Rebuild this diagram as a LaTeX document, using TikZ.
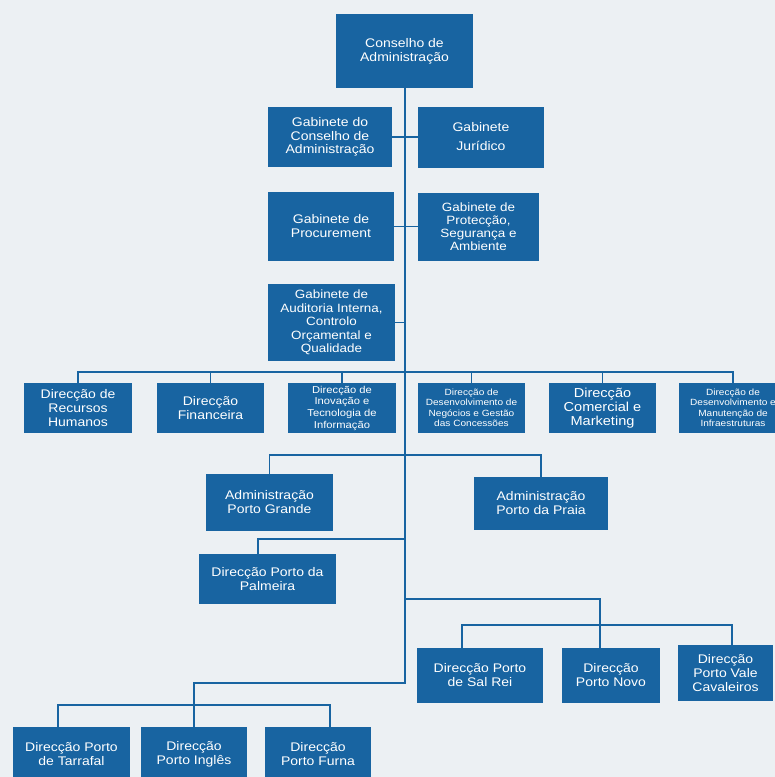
\documentclass[tikz,border=0pt]{standalone}
\usepackage{fontspec}
\setmainfont{Liberation Sans}[FakeStretch=1.12]
\usepackage{tikz}
\definecolor{portblue}{HTML}{1864A1}
\definecolor{paper}{HTML}{ECF0F3}
\tikzset{unit/.style={fill=portblue, text=white, align=center, inner sep=1pt,
    font=\fontsize{12.5}{14}\selectfont},
  tinyunit/.style={unit, font=\fontsize{9}{10.5}\selectfont},
  link/.style={draw=portblue, line width=1.2pt},
  trunk/.style={draw=portblue, line width=2pt}}

\begin{document}
\begin{tikzpicture}[x=1pt, y=-1pt]
\useasboundingbox (0,0) rectangle (775,777);
\fill[paper] (0,0) rectangle (775,777);
\node[unit, minimum width=137, minimum height=74] (cons) at (404.5,51)
  {Conselho de\\Administração};
\node[unit, minimum width=124, minimum height=60,
  font=\fontsize{12.5}{13.3}\selectfont] (gcons) at (330,137)
  {Gabinete do\\Conselho de\\Administração};
\node[unit, minimum width=126, minimum height=61] (jur) at (481,137)
  {Gabinete\\[5pt]Jurídico};
\node[unit, minimum width=126, minimum height=69] (proc) at (331,226.5)
  {Gabinete de\\Procurement};
\node[unit, minimum width=121, minimum height=68,
  font=\fontsize{12}{13}\selectfont] (prot) at (478.5,226.5)
  {Gabinete de\\Protecção,\\Segurança e\\Ambiente};
\node[unit, minimum width=127, minimum height=77,
  font=\fontsize{12}{13.5}\selectfont] (aud) at (331.5,322.5)
  {Gabinete de\\Auditoria Interna,\\Controlo\\Orçamental e\\Qualidade};
\node[unit, minimum width=108, minimum height=50] (rh) at (78,408)
  {Direcção de\\Recursos\\Humanos};
\node[unit, minimum width=107, minimum height=50] (fin) at (210.5,408)
  {Direcção\\Financeira};
\node[unit, minimum width=108, minimum height=50,
  font=\fontsize{10}{11.7}\selectfont] (ino) at (342,408)
  {Direcção de\\Inovação e\\Tecnologia de\\Informação};
\node[tinyunit, minimum width=107, minimum height=50] (neg) at (471.5,408)
  {Direcção de\\Desenvolvimento de\\Negócios e Gestão\\das Concessões};
\node[unit, minimum width=107, minimum height=50,
  font=\fontsize{13}{14}\selectfont] (com) at (602.5,408)
  {Direcção\\Comercial e\\Marketing};
\node[tinyunit, minimum width=108, minimum height=50] (inf) at (733,408)
  {Direcção de\\Desenvolvimento e\\Manutenção de\\Infraestruturas};
\node[unit, minimum width=127, minimum height=57] (apg) at (269.5,502.5)
  {Administração\\Porto Grande};
\node[unit, minimum width=134, minimum height=53] (apr) at (541,503.5)
  {Administração\\Porto da Praia};
\node[unit, minimum width=137, minimum height=50] (pal) at (267.5,579)
  {Direcção Porto da\\Palmeira};
\node[unit, minimum width=126, minimum height=55] (sal) at (480,675.5)
  {Direcção Porto\\de Sal Rei};
\node[unit, minimum width=98, minimum height=55] (nov) at (611,675.5)
  {Direcção\\Porto Novo};
\node[unit, minimum width=95, minimum height=56] (val) at (725.5,673)
  {Direcção\\Porto Vale\\Cavaleiros};
\node[unit, minimum width=117, minimum height=55] (tar) at (71.5,754.5)
  {Direcção Porto\\de Tarrafal};
\node[unit, minimum width=106, minimum height=55] (ing) at (194,754.5)
  {Direcção\\Porto Inglês};
\node[unit, minimum width=106, minimum height=55] (fur) at (318,754.5)
  {Direcção\\Porto Furna};
\coordinate (dirbus) at (404.5,372);
\coordinate (admbus) at (404.5,455);
\coordinate (palbus) at (404.5,539);
\coordinate (eastbus) at (404.5,599);
\coordinate (portbus) at (462,625);
\coordinate (trunkend) at (404.5,683);
\coordinate (westbus) at (193,705);
\draw[trunk] (cons.south) -- (trunkend) -| (ing.north);
\draw[link] (gcons.east) -- (jur.west);
\draw[link] (proc.east) -- (prot.west);
\draw[link] (aud.east) -- (aud.east -| cons.south);
\draw[link] (rh.north) -- (rh.north |- dirbus) -- (inf.north |- dirbus)
  -- (inf.north);
\foreach \n in {fin, ino, neg, com}
  \draw[link] (\n.north) -- (\n.north |- dirbus);
\draw[link] (apg.north) -- (apg.north |- admbus) -- (apr.north |- admbus)
  -- (apr.north);
\draw[link] ([xshift=-9.5pt]pal.north) |- (palbus);
\draw[link] (eastbus) -| ([xshift=-11pt]nov.north);
\draw[link] ([xshift=-18pt]sal.north) |- ([xshift=6.5pt]val.north |- portbus)
  -- ([xshift=6.5pt]val.north);
\draw[link] ([xshift=-13.5pt]tar.north) |- ([xshift=12pt]fur.north |- westbus)
  -- ([xshift=12pt]fur.north);
\end{tikzpicture}
\end{document}
